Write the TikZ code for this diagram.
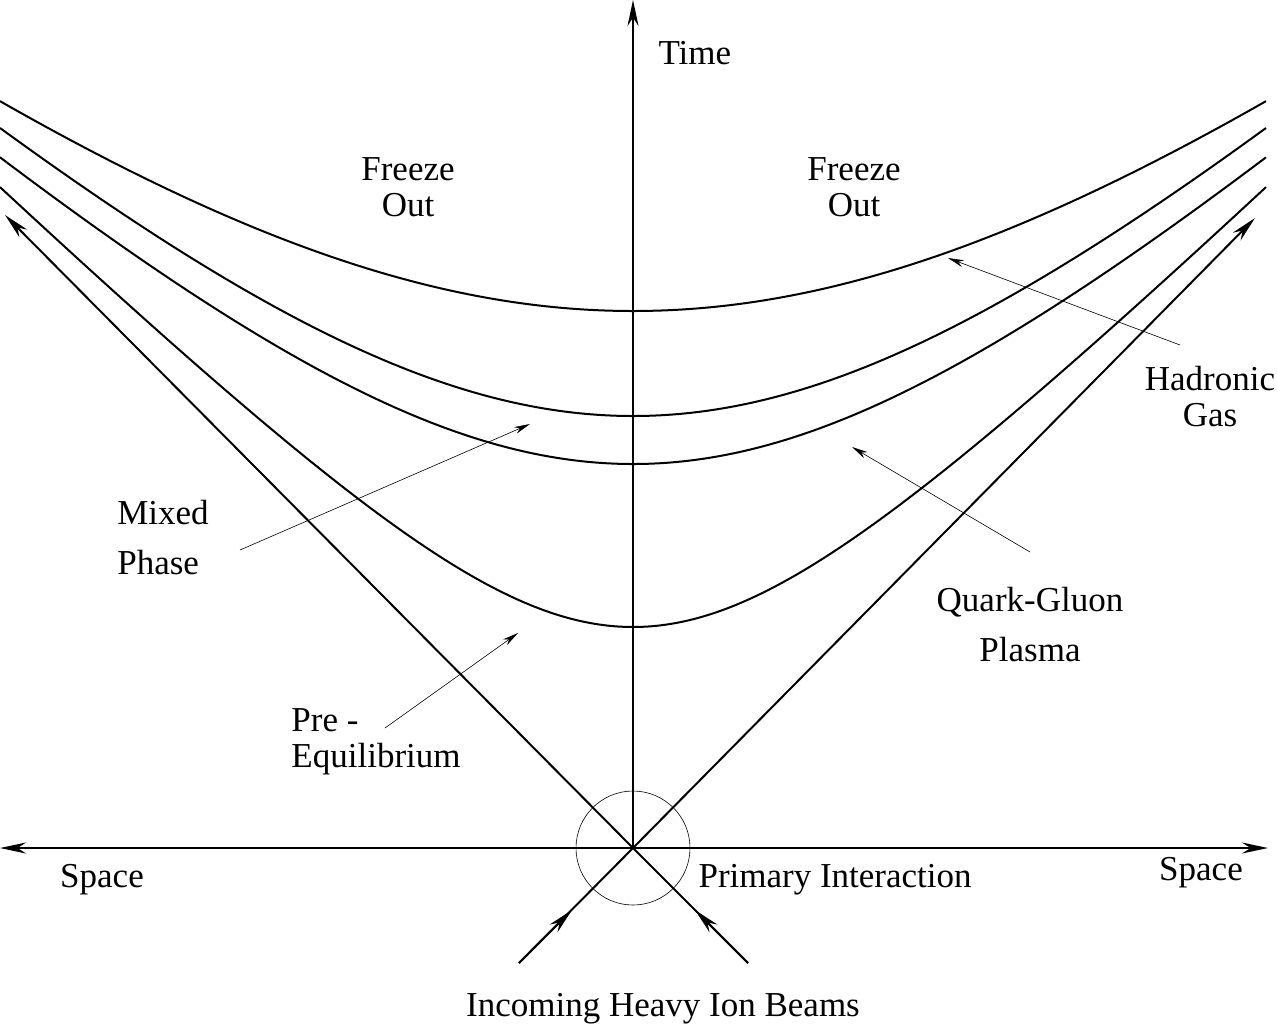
\documentclass[tikz,border=0pt]{standalone}
\usepackage{fontspec}
\setmainfont{Liberation Serif}
\usetikzlibrary{arrows.meta}
\tikzset{axis/.style={line width=2pt, -{Stealth[length=26pt,width=11pt]}},
  thick curve/.style={line width=2pt},
  pointer/.style={line width=0.6pt, -{Stealth[length=16pt,width=7pt]}},
  lbl/.style={font=\fontsize{35}{36}\selectfont, align=center}}
\begin{document}
\begin{tikzpicture}[x=1pt,y=-1pt]
  \useasboundingbox (0,0) rectangle (1277,1029);
  \coordinate (o) at (633,848);
  % axes
  \draw [axis] (o) -- (633,0);
  \draw [axis] (o) -- (0,848);
  \draw [axis] (o) -- (1268,848);
  % light cone
  \draw [axis] (o) -- (5,215);
  \draw [axis] (o) -- (1255,218);
  % incoming beams
  \coordinate (bl) at (519,963);
  \coordinate (br) at (748,963);
  \draw [thick curve] (bl) -- (o) (br) -- (o);
  \draw [axis] (bl) -- (572,910);
  \draw [axis] (br) -- (695,910);
  \node [draw, circle, minimum size=114pt, line width=0.6pt] (hit) at (o) {};
  % proper time curves
  \foreach \tau/\k in {2.21/0.984, 3.84/0.907, 4.32/0.91, 5.37/0.82}
    \draw [thick curve] plot [domain=-6.33:6.33, samples=120, smooth]
      ({633+100*\x}, {848-100*sqrt(\tau*\tau+(\k*\x)*(\k*\x))});
  % labels
  \node [lbl, anchor=west] (time) at (655,53) {Time};
  \node [lbl] (fo1) at (408,187) {Freeze\\Out};
  \node [lbl] (fo2) at (854,187) {Freeze\\Out};
  \node [lbl] (hg) at (1210,397) {Hadronic\\Gas};
  \node [lbl] (qgp) at (1030,625) {Quark-Gluon\\[14pt]Plasma};
  \node [lbl, align=left] (mp) at (163,538) {Mixed\\[14pt]Phase};
  \node [lbl, align=left] (pe) at (376,742) {Pre -\\Equilibrium};
  \node [lbl] (sl) at (102,880) {Space};
  \node [lbl] (sr) at (1201,873) {Space};
  \node [lbl, anchor=west] (pi) at (695,880) {Primary Interaction};
  \node [lbl] (ib) at (663,1009) {Incoming Heavy Ion Beams};
  % pointers
  \draw [pointer] (1180,345) -- (948,258);
  \draw [pointer] (1030,552) -- (852,447);
  \draw [pointer] (240,550) -- (530,424);
  \draw [pointer] (385,728) -- (518,633);
\end{tikzpicture}
\end{document}
